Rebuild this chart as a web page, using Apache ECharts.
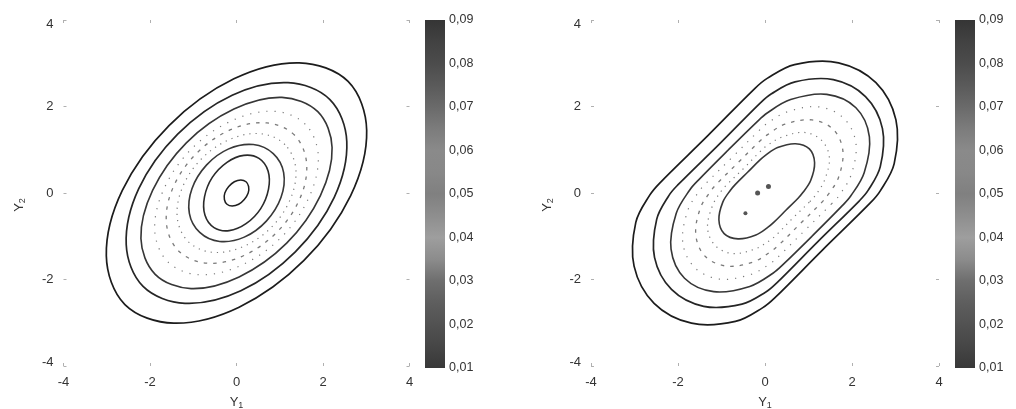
<!DOCTYPE html>
<html><head><meta charset="utf-8">
<script src="https://cdn.jsdelivr.net/npm/echarts@6/dist/echarts.min.js"></script>
<style>html,body{margin:0;padding:0;background:#fff}#c{width:1016px;height:409px}</style>
</head><body><div id="c"></div>
<script>
// ---------- data ----------
const axisMin = -4, axisMax = 4, axisStep = 2;
const levels = [0.01, 0.02, 0.03, 0.04, 0.05, 0.06, 0.07, 0.08, 0.09];

// left panel: one closed contour per level (points around each ring, in Y1/Y2 units)
const L1 = [[2.58,2.58],[1.45,3.01],[-0.06,2.64],[-1.56,1.56],[-2.64,0.06],[-3.01,-1.45],[-2.58,-2.58],[-1.45,-3.01],[0.06,-2.64],[1.56,-1.56],[2.64,-0.06],[3.01,1.45]];
const L2 = [[2.16,2.16],[1.19,2.55],[-0.10,2.26],[-1.36,1.36],[-2.26,0.10],[-2.55,-1.19],[-2.16,-2.16],[-1.19,-2.55],[0.10,-2.26],[1.36,-1.36],[2.26,-0.10],[2.55,1.19]];
const L3 = [[1.88,1.88],[1.05,2.21],[-0.06,1.94],[-1.16,1.16],[-1.94,0.06],[-2.21,-1.05],[-1.88,-1.88],[-1.05,-2.21],[0.06,-1.94],[1.16,-1.16],[1.94,-0.06],[2.21,1.05]];
const L4 = [[1.59,1.59],[0.87,1.89],[-0.09,1.68],[-1.03,1.03],[-1.68,0.09],[-1.89,-0.87],[-1.59,-1.59],[-0.87,-1.89],[0.09,-1.68],[1.03,-1.03],[1.68,-0.09],[1.89,0.87]];
const L5 = [[1.34,1.34],[0.70,1.62],[-0.12,1.47],[-0.92,0.92],[-1.47,0.12],[-1.62,-0.70],[-1.34,-1.34],[-0.70,-1.62],[0.12,-1.47],[0.92,-0.92],[1.47,-0.12],[1.62,0.70]];
const L6 = [[1.12,1.12],[0.57,1.37],[-0.13,1.25],[-0.80,0.80],[-1.25,0.13],[-1.37,-0.57],[-1.12,-1.12],[-0.57,-1.37],[0.13,-1.25],[0.80,-0.80],[1.25,-0.13],[1.37,0.57]];
const L7 = [[0.85,0.91],[0.39,1.12],[-0.18,1.02],[-0.69,0.65],[-1.03,0.10],[-1.09,-0.47],[-0.85,-0.91],[-0.39,-1.12],[0.18,-1.02],[0.69,-0.65],[1.03,-0.10],[1.09,0.47]];
const L8 = [[0.52,0.80],[0.17,0.87],[-0.22,0.71],[-0.56,0.36],[-0.74,-0.09],[-0.73,-0.51],[-0.52,-0.80],[-0.17,-0.87],[0.22,-0.71],[0.56,-0.36],[0.74,0.09],[0.73,0.51]];
const L9 = [[0.22,0.26],[0.10,0.30],[-0.05,0.26],[-0.18,0.15],[-0.27,0.0],[-0.28,-0.15],[-0.22,-0.26],[-0.10,-0.30],[0.05,-0.26],[0.18,-0.15],[0.27,0.0],[0.28,0.15]];
const leftRings = [L1, L2, L3, L4, L5, L6, L7, L8, L9];
const leftRingLevels = [0.01, 0.02, 0.03, 0.04, 0.05, 0.06, 0.07, 0.08, 0.09];

// right panel
const R1 = [[2.42,-0.23],[2.65,0.05],[2.97,0.68],[3.01,1.69],[2.55,2.55],[1.69,3.01],[0.68,2.97],[0.05,2.65],[-0.23,2.42],[-1.32,1.32],[-2.42,0.23],[-2.65,-0.05],[-2.97,-0.68],[-3.01,-1.69],[-2.55,-2.55],[-1.69,-3.01],[-0.68,-2.97],[-0.05,-2.65],[0.23,-2.42],[1.32,-1.32]];
const R2 = [[2.17,-0.18],[2.37,0.06],[2.65,0.61],[2.70,1.49],[2.31,2.23],[1.57,2.62],[0.69,2.57],[0.14,2.29],[-0.10,2.09],[-1.05,1.13],[-2.01,0.18],[-2.21,-0.06],[-2.49,-0.61],[-2.54,-1.49],[-2.15,-2.23],[-1.41,-2.62],[-0.53,-2.57],[0.02,-2.29],[0.26,-2.09],[1.21,-1.13]];
const R3 = [[1.76,-0.31],[1.97,-0.07],[2.28,0.47],[2.40,1.30],[2.09,1.97],[1.42,2.28],[0.59,2.16],[0.05,1.85],[-0.19,1.64],[-0.86,0.98],[-1.52,0.31],[-1.73,0.07],[-2.04,-0.47],[-2.16,-1.30],[-1.85,-1.97],[-1.18,-2.28],[-0.35,-2.16],[0.19,-1.85],[0.43,-1.64],[1.10,-0.98]];
const R4 = [[1.53,-0.25],[1.71,-0.05],[1.98,0.42],[2.09,1.15],[1.82,1.72],[1.25,1.99],[0.52,1.88],[0.05,1.61],[-0.15,1.43],[-0.74,0.84],[-1.33,0.25],[-1.51,0.05],[-1.78,-0.42],[-1.89,-1.15],[-1.62,-1.72],[-1.05,-1.99],[-0.32,-1.88],[0.15,-1.61],[0.35,-1.43],[0.94,-0.84]];
const R5 = [[1.29,-0.23],[1.45,-0.04],[1.69,0.36],[1.79,0.98],[1.57,1.47],[1.08,1.69],[0.46,1.59],[0.06,1.35],[-0.13,1.19],[-0.61,0.71],[-1.09,0.23],[-1.25,0.04],[-1.49,-0.36],[-1.59,-0.98],[-1.37,-1.47],[-0.88,-1.69],[-0.26,-1.59],[0.14,-1.35],[0.33,-1.19],[0.81,-0.71]];
const R6 = [[1.03,-0.20],[1.17,-0.04],[1.37,0.30],[1.48,0.82],[1.30,1.22],[0.90,1.40],[0.38,1.29],[0.04,1.09],[-0.12,0.95],[-0.49,0.57],[-0.87,0.20],[-1.01,0.04],[-1.21,-0.30],[-1.32,-0.82],[-1.14,-1.22],[-0.74,-1.40],[-0.22,-1.29],[0.12,-1.09],[0.28,-0.95],[0.65,-0.57]];
const R7 = [[0.76,-0.12],[0.87,0.01],[1.05,0.29],[1.14,0.70],[1.02,1.02],[0.70,1.14],[0.29,1.05],[0.01,0.87],[-0.12,0.76],[-0.40,0.48],[-0.68,0.20],[-0.79,0.07],[-0.97,-0.21],[-1.06,-0.62],[-0.94,-0.94],[-0.62,-1.06],[-0.21,-0.97],[0.07,-0.79],[0.20,-0.68],[0.48,-0.40]];
const rightRings = [R1, R2, R3, R4, R5, R6, R7];
const rightRingLevels = [0.01, 0.02, 0.03, 0.04, 0.05, 0.06, 0.07];
const rightPeaks = [[-0.17, 0.0], [0.08, 0.15], [-0.45, -0.47]];
const rightPeakLevels = [0.08, 0.08, 0.08];

// colour bar (grey rendering of the scanned colour map)
const cbTicks = [0.01, 0.02, 0.03, 0.04, 0.05, 0.06, 0.07, 0.08, 0.09];
const cbStopValues = [0.01, 0.015, 0.02, 0.025, 0.03, 0.035, 0.04, 0.045, 0.05, 0.055, 0.06, 0.065, 0.07, 0.075, 0.08, 0.085, 0.09];
const cbStopGrays  = ['#383838','#464646','#525252','#5e5e5e','#6e6e6e','#8c8c8c','#9e9e9e','#8e8e8e','#808080','#888888','#8a8a8a','#7c7c7c','#6a6a6a','#5a5a5a','#4c4c4c','#424242','#353535'];

// ---------- styling ----------
const FONT = '"Liberation Sans", Arial, sans-serif';
const TXT = '#333';
const styleByLevel = {
  0.01: {stroke: '#1c1c1c', w: 1.7, dash: null},
  0.02: {stroke: '#252525', w: 1.7, dash: null},
  0.03: {stroke: '#363636', w: 1.6, dash: null},
  0.04: {stroke: '#7a7a7a', w: 1.2, dash: [1.2, 7]},
  0.05: {stroke: '#7a7a7a', w: 1.3, dash: [3.5, 6]},
  0.06: {stroke: '#7a7a7a', w: 1.2, dash: [1.2, 5]},
  0.07: {stroke: '#383838', w: 1.6, dash: null},
  0.08: {stroke: '#2a2a2a', w: 1.6, dash: null},
  0.09: {stroke: '#1e1e1e', w: 1.5, dash: null}
};

const chart = echarts.init(document.getElementById('c'), null, {renderer: 'canvas'});

function contourSeries(rings, ringLevels, xi, yi) {
  return {
    type: 'custom', xAxisIndex: xi, yAxisIndex: yi, silent: true, animation: false,
    data: rings.map((r, i) => [r[0][0], r[0][1], i]),
    renderItem: function (params, api) {
      const i = params.dataIndex;
      const st = styleByLevel[ringLevels[i]];
      const pts = rings[i].map(p => api.coord(p));
      return {
        type: 'polygon',
        shape: {points: pts, smooth: 0.35},
        style: {fill: 'none', stroke: st.stroke, lineWidth: st.w, lineDash: st.dash}
      };
    }
  };
}

function colorbarSeries(xi, yi) {
  const lo = cbTicks[0], hi = cbTicks[cbTicks.length - 1];
  return {
    type: 'custom', xAxisIndex: xi, yAxisIndex: yi, silent: true, animation: false,
    data: [[0, lo, 1, hi]],
    renderItem: function (params, api) {
      const p0 = api.coord([0, lo]);
      const p1 = api.coord([1, hi]);
      const stops = cbStopValues.map((v, k) => ({offset: (v - lo) / (hi - lo), color: cbStopGrays[k]}));
      return {
        type: 'rect',
        shape: {x: p0[0], y: p1[1], width: p1[0] - p0[0], height: p0[1] - p1[1]},
        style: {fill: new echarts.graphic.LinearGradient(0, 1, 0, 0, stops)}
      };
    }
  };
}

const tickStyle = {show: true, inside: true, length: 3, lineStyle: {color: '#b0b0b0', width: 1}};
const labelStyle = {fontSize: 13, color: TXT, fontFamily: FONT};
const richName = {
  a: {fontSize: 13, color: TXT, fontFamily: FONT},
  b: {fontSize: 9, color: TXT, fontFamily: FONT, padding: [7, 0, 0, 0]}
};
const yLabelRich = {
  t: {fontSize: 13, color: TXT, fontFamily: FONT, padding: [8, 0, 0, 0]},
  u: {fontSize: 13, color: TXT, fontFamily: FONT, padding: [0, 0, 8, 0]}
};

function mainX(gi, top) {
  return {
    gridIndex: gi, type: 'value', min: axisMin, max: axisMax, interval: axisStep,
    position: top ? 'top' : 'bottom',
    axisLine: {show: false, onZero: false}, splitLine: {show: false}, axisTick: tickStyle,
    axisLabel: top ? {show: false} : Object.assign({margin: 10}, labelStyle),
    name: top ? '' : '{a|Y}{b|1}', nameLocation: 'middle', nameGap: 28,
    nameTextStyle: {rich: richName}
  };
}
function mainY(gi, right) {
  return {
    gridIndex: gi, type: 'value', min: axisMin, max: axisMax, interval: axisStep,
    position: right ? 'right' : 'left',
    axisLine: {show: false, onZero: false}, splitLine: {show: false}, axisTick: tickStyle,
    axisLabel: right ? {show: false} : Object.assign({
      margin: 10, rich: yLabelRich,
      formatter: v => v === axisMax ? '{t|' + v + '}' : (v === axisMin ? '{u|' + v + '}' : String(v))
    }, labelStyle),
    name: right ? '' : '{a|Y}{b|2}', nameLocation: 'middle', nameGap: 36, nameRotate: 90,
    nameTextStyle: {rich: richName, padding: [0, 24, 0, 0]}
  };
}
function cbX(gi) {
  return {gridIndex: gi, type: 'value', min: 0, max: 1, show: false};
}
function cbY(gi) {
  return {
    gridIndex: gi, type: 'value', min: cbTicks[0], max: cbTicks[cbTicks.length - 1], interval: 0.01,
    position: 'right', axisLine: {show: false, onZero: false}, axisTick: {show: false}, splitLine: {show: false},
    axisLabel: {margin: 4, fontSize: 12.5, color: TXT, fontFamily: FONT,
      formatter: v => v.toFixed(2).replace('.', ',')}
  };
}

const gridBase = {containLabel: false, outerBoundsMode: 'none'};
chart.setOption({
  animation: false,
  backgroundColor: '#fff',
  grid: [
    Object.assign({left: 63.5, top: 20, width: 346, height: 346}, gridBase),
    Object.assign({left: 425, top: 20, width: 20, height: 348}, gridBase),
    Object.assign({left: 591, top: 20, width: 348, height: 346}, gridBase),
    Object.assign({left: 955, top: 20, width: 20, height: 348}, gridBase)
  ],
  xAxis: [mainX(0, false), mainX(0, true), cbX(1), mainX(2, false), mainX(2, true), cbX(3)],
  yAxis: [mainY(0, false), mainY(0, true), cbY(1), mainY(2, false), mainY(2, true), cbY(3)],
  series: [
    contourSeries(leftRings, leftRingLevels, 0, 0),
    colorbarSeries(2, 2),
    contourSeries(rightRings, rightRingLevels, 3, 3),
    {
      type: 'scatter', xAxisIndex: 3, yAxisIndex: 3, silent: true, animation: false,
      data: rightPeaks, symbol: 'circle',
      symbolSize: (v, p) => p.dataIndex < 2 ? 5 : 4,
      itemStyle: {color: (p) => styleByLevel[rightPeakLevels[p.dataIndex]].stroke}
    },
    colorbarSeries(5, 5)
  ]
});
</script></body></html>
